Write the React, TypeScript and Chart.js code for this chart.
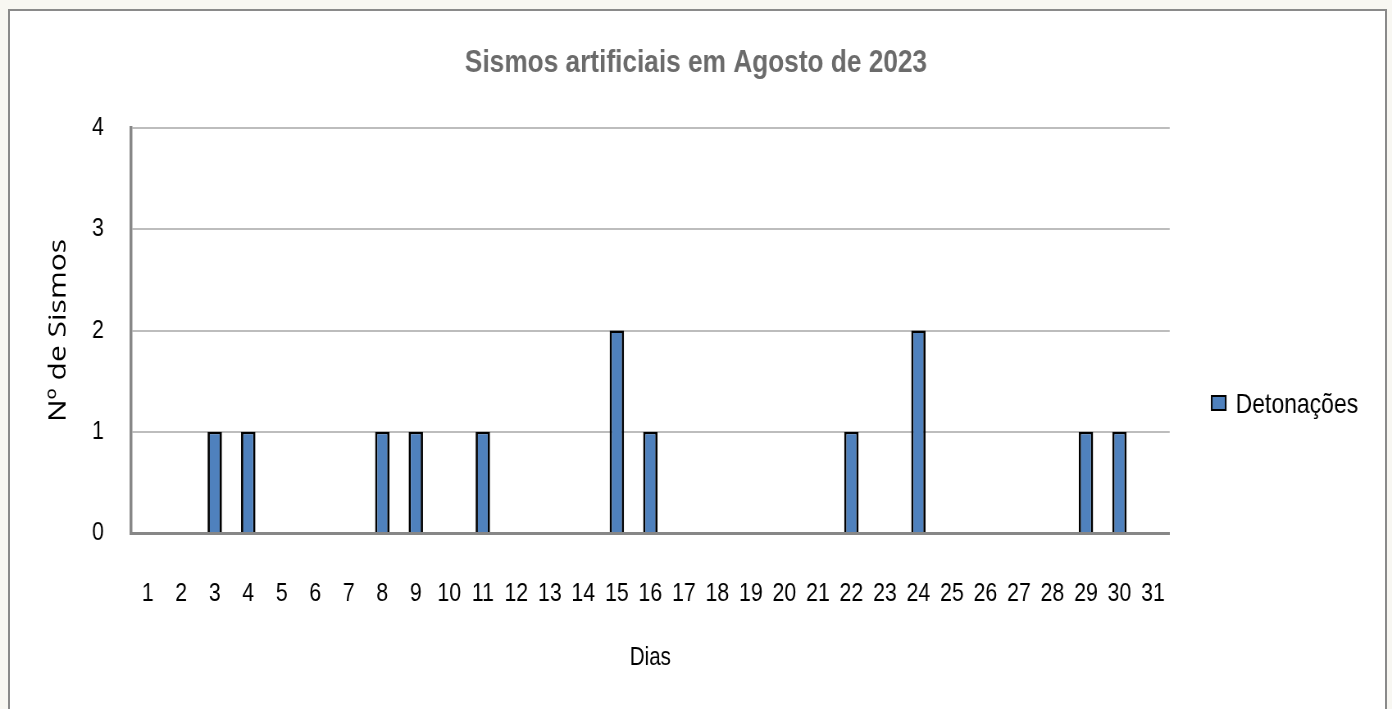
import React, { useEffect, useRef } from "react";
import { Chart, registerables } from "chart.js";

Chart.register(...registerables);

const days: string[] = [
  "1", "2", "3", "4", "5", "6", "7", "8", "9", "10",
  "11", "12", "13", "14", "15", "16", "17", "18", "19", "20",
  "21", "22", "23", "24", "25", "26", "27", "28", "29", "30", "31",
];
const detonacoes: number[] = [
  0, 0, 1, 1, 0, 0, 0, 1, 1, 0,
  1, 0, 0, 0, 2, 1, 0, 0, 0, 0,
  0, 1, 0, 2, 0, 0, 0, 0, 1, 1, 0,
];
const seriesLabel = "Detonações";
const chartTitle = "Sismos artificiais em Agosto de 2023";
const xTitle = "Dias";
const yTitle = "Nº de Sismos";

// The reference uses a condensed face; we draw on a wider canvas and squeeze it horizontally.
const VIEW_W = 1392;
const VIEW_H = 709;
const SQUEEZE = 0.82;
const CANVAS_W = Math.round(VIEW_W / SQUEEZE);
const sx = (px: number) => px / SQUEEZE; // page x distance -> canvas x distance

const SANS = "'Liberation Sans', Arial, sans-serif";
const BAR_FILL = "#4f81bd";

const legendPlugin = {
  id: "customLegend",
  afterDraw(chart: any) {
    const { ctx, chartArea } = chart;
    const ds = chart.data.datasets[0];
    const bx = chartArea.right + sx(42);
    const by = 396;
    const bw = sx(14);
    ctx.save();
    ctx.fillStyle = BAR_FILL;
    ctx.fillRect(bx, by, bw, 14);
    ctx.strokeStyle = "#000";
    ctx.lineWidth = 2;
    ctx.strokeRect(bx, by, bw, 14);
    ctx.fillStyle = "#000";
    ctx.font = `28px ${SANS}`;
    ctx.textBaseline = "middle";
    ctx.textAlign = "left";
    ctx.fillText(ds.label, chartArea.right + sx(66), 405);
    ctx.restore();
  },
};

export default function App() {
  const ref = useRef<HTMLCanvasElement | null>(null);

  useEffect(() => {
    if (!ref.current) return;
    const chart = new Chart(ref.current, {
      type: "bar",
      data: {
        labels: days,
        datasets: [
          {
            label: seriesLabel,
            data: detonacoes,
            backgroundColor: BAR_FILL,
            borderColor: "#000000",
            borderWidth: { left: 2.8, right: 2.8, top: 2.4, bottom: 0 },
            borderSkipped: false,
            categoryPercentage: 1,
            barPercentage: 0.43,
          },
        ],
      },
      options: {
        animation: false,
        responsive: false,
        maintainAspectRatio: false,
        devicePixelRatio: 1,
        layout: { padding: 0 },
        plugins: {
          legend: { display: false },
          tooltip: { enabled: false },
          title: {
            display: true,
            text: chartTitle,
            color: "#6b6b6b",
            font: { family: SANS, size: 32, weight: "bold" },
            padding: { top: 44, bottom: 45.6 },
          },
        },
        scales: {
          x: {
            grid: { display: false, drawTicks: false },
            border: { display: true, color: "#878787", width: 3 },
            ticks: {
              color: "#000",
              font: { family: SANS, size: 26 },
              padding: 45,
              maxRotation: 0,
              autoSkip: false,
            },
            title: {
              display: true,
              text: xTitle,
              color: "#000",
              font: { family: SANS, size: 25 },
              padding: { top: 0, bottom: 36 },
            },
            afterFit: (scale: any) => {
              scale.height = 176;
            },
          },
          y: {
            min: 0,
            max: 4,
            grid: {
              drawTicks: false,
              color: (c: any) => (c.index === 0 ? "rgba(0,0,0,0)" : "#bdbdbd"),
              lineWidth: 2,
            },
            border: { display: true, color: "#878787", width: 3.5 },
            ticks: {
              stepSize: 1,
              color: "#000",
              font: { family: SANS, size: 26 },
              padding: sx(27),
            },
            title: {
              display: true,
              text: yTitle,
              color: "#000",
              font: { family: "'Open Sans', sans-serif", size: 30 },
              padding: { top: sx(59) - 18, bottom: 0 },
            },
            afterFit: (scale: any) => {
              scale.width = sx(131);
            },
          },
          yRight: {
            position: "right",
            display: true,
            grid: { display: false, drawTicks: false },
            border: { display: false },
            ticks: { display: false },
            afterFit: (scale: any) => {
              scale.width = CANVAS_W - sx(1170);
            },
          },
        },
      },
      plugins: [legendPlugin],
    } as any);
    return () => chart.destroy();
  }, []);

  return (
    <div
      style={{
        position: "fixed",
        left: 0,
        top: 0,
        width: VIEW_W,
        height: VIEW_H,
        background: "#f8f7f2",
        overflow: "hidden",
      }}
    >
      <div
        style={{
          position: "absolute",
          left: 8,
          top: 9,
          width: 1375,
          height: 720,
          border: "2px solid #8a8a8a",
          background: "#ffffff",
        }}
      />
      <canvas
        ref={ref}
        width={CANVAS_W}
        height={VIEW_H}
        style={{ position: "absolute", left: 0, top: 0, width: VIEW_W, height: VIEW_H }}
      />
    </div>
  );
}
